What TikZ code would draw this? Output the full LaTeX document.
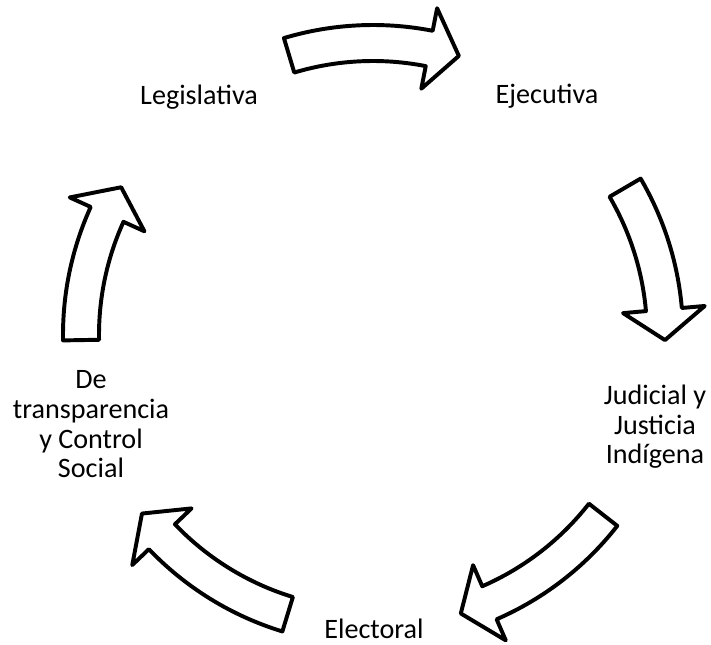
\documentclass[tikz,border=0pt]{standalone}
\usepackage{fontspec}
\setmainfont{Carlito}
\begin{document}
\begin{tikzpicture}[x=0.025cm, y=0.025cm, line join=round,
    cyclearrow/.style={draw=black, line width=2.8pt, fill=white},
    power/.style={font=\fontsize{20}{21.3}\selectfont, align=center, anchor=base, inner sep=0pt}]
  \useasboundingbox (0,0) rectangle (711,645);
  % block arrows on a circle, centre (373,310)
  \begin{scope}[shift={(373,310)}]
    \foreach \tail/\tip in {106.7/72.9, 30.3/-1, -38/-72.5, -107/-142.3, 181/149.6}{
      \pgfmathsetmacro{\base}{\tip+6}
      \draw[cyclearrow] (\tail:310) arc[start angle=\tail, end angle=\base, radius=310]
        -- (\base:333) -- (\tip:292) -- (\base:251) -- (\base:274)
        arc[start angle=\base, end angle=\tail, radius=274] -- cycle;
    }
  \end{scope}
  % base of a node with several lines is its last line
  \node[power] (leg) at (199,540) {Legislativa};
  \node[power] (eje) at (547,541) {Ejecutiva};
  \node[power] (jud) at (655,181) {Judicial y\\Justicia\\Indígena};
  \node[power] (ele) at (374,7) {Electoral};
  \node[power] (tra) at (91,167) {De\\transparencia\\y Control\\Social};
\end{tikzpicture}
\end{document}
